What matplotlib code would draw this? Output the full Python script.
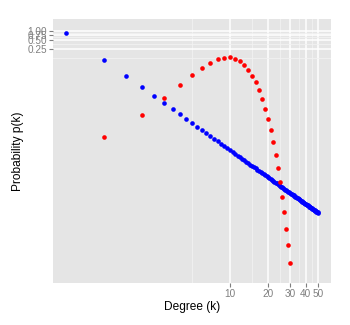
import numpy as np
import matplotlib
matplotlib.use("Agg")
import matplotlib.pyplot as plt
from matplotlib.ticker import FixedLocator, NullFormatter

# ---- data ----
blue_k = np.arange(0.5, 50.01, 0.5)
blue_p = [0.832, 0.104, 0.0308, 0.013, 0.00666, 0.00385, 0.00243, 0.001625, 0.00114, 0.000832,
          0.000625, 0.000481, 0.000379, 0.000303, 0.000247, 0.000203, 0.000169, 0.000143, 0.000121, 0.000104,
          8.98e-5, 7.81e-5, 6.84e-5, 6.02e-5, 5.32e-5, 4.73e-5, 4.23e-5, 3.79e-5, 3.41e-5, 3.08e-5,
          2.79e-5, 2.54e-5, 2.32e-5, 2.12e-5, 1.94e-5, 1.78e-5, 1.64e-5, 1.52e-5, 1.40e-5, 1.30e-5,
          1.21e-5, 1.12e-5, 1.05e-5, 9.77e-6, 9.13e-6, 8.55e-6, 8.01e-6, 7.52e-6, 7.07e-6, 6.66e-6,
          6.27e-6, 5.92e-6, 5.59e-6, 5.28e-6, 5.00e-6, 4.74e-6, 4.49e-6, 4.26e-6, 4.05e-6, 3.85e-6,
          3.67e-6, 3.49e-6, 3.33e-6, 3.17e-6, 3.03e-6, 2.89e-6, 2.77e-6, 2.65e-6, 2.53e-6, 2.43e-6,
          2.32e-6, 2.23e-6, 2.14e-6, 2.05e-6, 1.97e-6, 1.90e-6, 1.82e-6, 1.75e-6, 1.69e-6, 1.63e-6,
          1.57e-6, 1.51e-6, 1.46e-6, 1.40e-6, 1.35e-6, 1.31e-6, 1.26e-6, 1.22e-6, 1.18e-6, 1.14e-6,
          1.10e-6, 1.07e-6, 1.03e-6, 1.00e-6, 9.70e-7, 9.40e-7, 9.12e-7, 8.84e-7, 8.58e-7, 8.32e-7]

red_k = list(range(1, 31))
red_p = [2.92e-4, 1.55e-3, 5.87e-3, 0.0160, 0.0337, 0.0593, 0.0871, 0.116, 0.128, 0.135,
         0.119, 0.0993, 0.0746, 0.0508, 0.0320, 0.0192, 0.0106, 5.32e-3, 2.52e-3, 1.14e-3,
         5.0e-4, 1.99e-4, 7.3e-5, 2.62e-5, 8.9e-6, 2.90e-6, 8.7e-7, 2.44e-7, 6.8e-8, 1.78e-8]

x_major = [10, 20, 30, 40, 50]
x_minor = [5, 15, 25, 35, 45]
y_major = [0.25, 0.50, 0.75, 1.00]
y_labels = ["0.25", "0.50", "0.75", "1.00"]
y_minor = [0.125, 0.375, 0.625, 0.875]

plt.rcParams['font.family'] = ['Liberation Sans', 'DejaVu Sans']

W, H = 350, 325
fig = plt.figure(figsize=(W / 100, H / 100), dpi=100)
ax = fig.add_axes([53 / W, (H - 283) / H, 278 / W, 264 / H])
ax.set_facecolor('#E5E5E5')
for s in ax.spines.values():
    s.set_visible(False)

ax.set_xscale('log')
ax.set_yscale('log')
ax.set_xlim(10 ** (1 - 177 / 126), 10 ** (1 + 101 / 126))
ax.set_ylim(10 ** (-(283 - 31) / 29.9), 10 ** ((31 - 19) / 29.9))

ax.xaxis.set_major_locator(FixedLocator(x_major))
ax.xaxis.set_minor_locator(FixedLocator(x_minor))
ax.set_xticklabels([str(v) for v in x_major])
ax.xaxis.set_minor_formatter(NullFormatter())
ax.yaxis.set_major_locator(FixedLocator(y_major))
ax.yaxis.set_minor_locator(FixedLocator(y_minor))
ax.set_yticklabels(y_labels)
ax.yaxis.set_minor_formatter(NullFormatter())

ax.grid(which='major', color='white', linewidth=1.1)
ax.grid(which='minor', color='#F2F2F2', linewidth=0.6)
ax.set_axisbelow(True)

ax.tick_params(which='major', length=3, width=0.8, color='#7F7F7F', labelcolor='#7F7F7F',
               labelsize=7.2, pad=1.5)
ax.tick_params(which='minor', length=0)

ax.scatter(blue_k, blue_p, s=11, color='#0000FF', linewidths=0, zorder=3)
ax.scatter(red_k, red_p, s=11, color='#FF0000', linewidths=0, zorder=3)

ax.set_xlabel('Degree (k)', fontsize=8.6, color='black', labelpad=1.5)
ax.set_ylabel('Probability p(k)', fontsize=8.6, color='black', labelpad=2)

fig.savefig('out.png', dpi=100, facecolor='white')
